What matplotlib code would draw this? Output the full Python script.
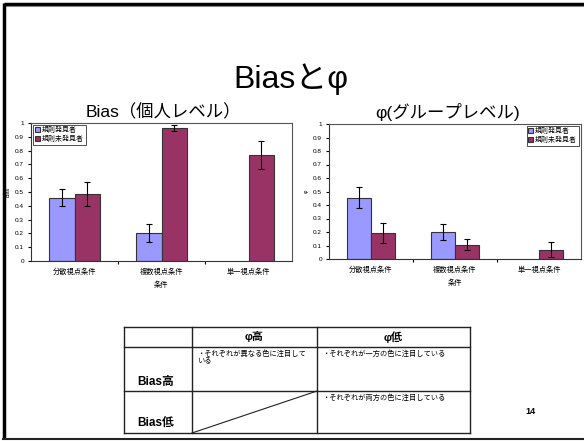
import matplotlib
matplotlib.use('Agg')
import matplotlib.pyplot as plt
import numpy as np

plt.rcParams['font.family'] = ['Liberation Sans', 'Noto Sans CJK JP', 'DejaVu Sans']

conditions = ['分散視点条件', '複数視点条件', '単一視点条件']
series_names = ['規則発見者', '規則未発見者']

bias_found = [0.46, 0.205, np.nan]
bias_found_err = [0.06, 0.065, 0]
bias_notfound = [0.485, 0.965, 0.77]
bias_notfound_err = [0.085, 0.02, 0.10]

phi_found = [0.455, 0.20, np.nan]
phi_found_err = [0.075, 0.06, 0]
phi_notfound = [0.195, 0.105, 0.07]
phi_notfound_err = [0.075, 0.04, 0.057]

table_cols = ['φ高', 'φ低']
table_rows = ['Bias高', 'Bias低']
table_cells = [['・それぞれが異なる色に注目して\nいる', '・それぞれが一方の色に注目している'],
               ['', '・それぞれが両方の色に注目している']]

W, H = 584, 441
BLUE = '#9999FF'
PLUM = '#993366'


def px_axes(fig, x0, y0, x1, y1):
    # pixel box (top-left origin) -> axes
    return fig.add_axes([x0 / W, 1 - y1 / H, (x1 - x0) / W, (y1 - y0) / H])


def bar_chart(ax, found, found_err, notfound, notfound_err, ylabel, legend_loc):
    x = np.arange(len(conditions))
    w = 0.29
    kw = dict(edgecolor='#333333', linewidth=0.8, capsize=2,
              error_kw=dict(elinewidth=0.8, capthick=0.8, ecolor='black'))
    ax.bar(x - w / 2, found, w, yerr=found_err, color=BLUE, label=series_names[0], **kw)
    ax.bar(x + w / 2, notfound, w, yerr=notfound_err, color=PLUM, label=series_names[1], **kw)
    ax.set_xlim(-0.5, len(conditions) - 0.5)
    ax.set_ylim(0, 1)
    ax.set_yticks(np.arange(0, 1.01, 0.1))
    ax.set_yticklabels(['0'] + [f'{v:.1f}' for v in np.arange(0.1, 0.95, 0.1)] + ['1'])
    ax.set_xticks([0.5, 1.5])
    ax.set_xticklabels([])
    ax.tick_params(axis='x', length=2, width=0.8)
    ax.tick_params(axis='y', length=2, width=0.8, labelsize=4.6, pad=3)
    for i, c in enumerate(conditions):
        ax.text(i, -0.055, c, ha='center', va='top', fontsize=5.2,
                transform=ax.get_xaxis_transform())
    ax.text(1, -0.15, '条件', ha='center', va='top', fontsize=5.2,
            transform=ax.get_xaxis_transform())
    ax.set_ylabel(ylabel, fontsize=3.8, labelpad=3)
    for s in ax.spines.values():
        s.set_linewidth(0.8)
        s.set_color('#555555')
    ax.spines['bottom'].set_color('#333333')
    ax.spines['left'].set_color('#333333')
    leg = ax.legend(loc=legend_loc, fontsize=5, frameon=True, fancybox=False,
                    handlelength=0.7, handleheight=0.7, handletextpad=0.3,
                    borderpad=0.25, labelspacing=0.2, borderaxespad=0.3)
    leg.get_frame().set_edgecolor('black')
    leg.get_frame().set_linewidth(0.6)


fig = plt.figure(figsize=(W / 100, H / 100), dpi=100)

ax1 = px_axes(fig, 31, 123, 292, 261)
bar_chart(ax1, bias_found, bias_found_err, bias_notfound, bias_notfound_err, 'Bias', 'upper left')

ax2 = px_axes(fig, 329, 124, 581, 259)
bar_chart(ax2, phi_found, phi_found_err, phi_notfound, phi_notfound_err, 'φ', 'upper right')

# overlay in pixel coordinates for slide text, frame and table
ov = fig.add_axes([0, 0, 1, 1], zorder=-1)
ov.set_xlim(0, W)
ov.set_ylim(H, 0)
ov.axis('off')

ov.text(291, 79, 'Biasとφ', ha='center', va='center', fontsize=23)
ov.text(163, 112, 'Bias（個人レベル）', ha='center', va='center', fontsize=12.5)
ov.text(448, 112, 'φ(グループレベル)', ha='center', va='center', fontsize=12.5)

# slide frame
ov.plot([4, W], [4, 4], color='black', lw=2.5, solid_capstyle='butt')
ov.plot([4, W], [6, 6], color='#888888', lw=0.8)
ov.plot([4, 4], [3, 439], color='black', lw=2.5, solid_capstyle='butt')
ov.plot([3, W], [439, 439], color='#222222', lw=1.5)

# table
xs = [124, 192, 317, 470]
ys = [327, 347, 391, 433]
for y in ys:
    ov.plot([xs[0], xs[-1]], [y, y], color='#222222', lw=1.0)
for x in xs:
    ov.plot([x, x], [ys[0], ys[-1]], color='#222222', lw=1.0)
ov.plot([xs[1], xs[2]], [ys[3], ys[2]], color='#222222', lw=0.8)

for j, c in enumerate(table_cols):
    ov.text((xs[j + 1] + xs[j + 2]) / 2, 337, c, ha='center', va='center',
            fontsize=8, fontweight='bold')
for i, r in enumerate(table_rows):
    ov.text(137, ys[i + 2] - 9, r, ha='left', va='center', fontsize=8.5, fontweight='bold')
    for j in range(2):
        if table_cells[i][j]:
            ov.text(xs[j + 1] + 5, ys[i + 1] + 3, table_cells[i][j], ha='left', va='top',
                    fontsize=5.2, linespacing=1.05)

ov.text(530, 412, '14', ha='center', va='center', fontsize=6.5, fontweight='bold')

fig.savefig('out.png', dpi=100)
